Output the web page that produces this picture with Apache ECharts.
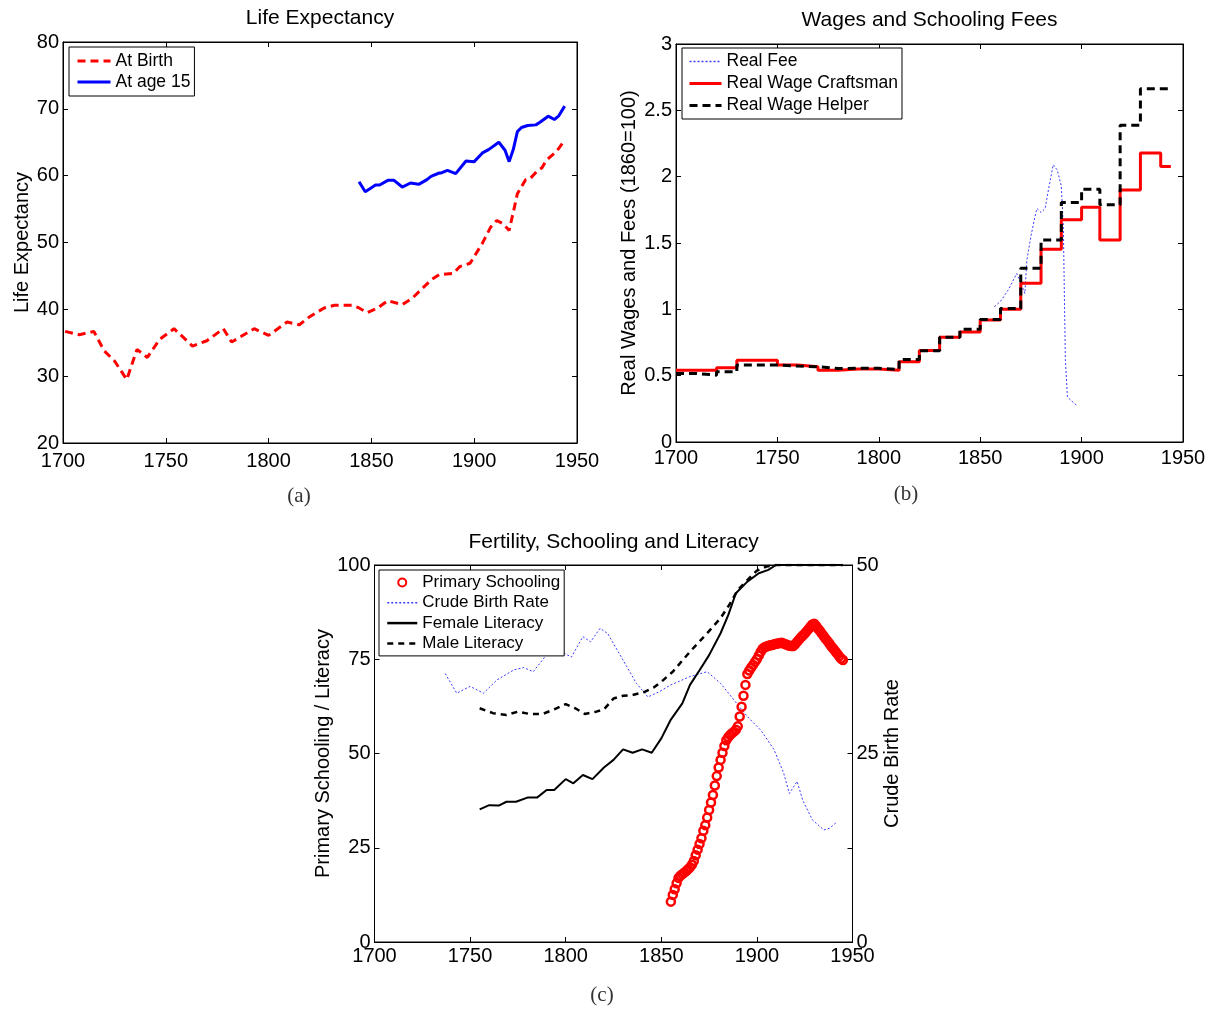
<!DOCTYPE html>
<html><head><meta charset="utf-8">
<script src="https://cdn.jsdelivr.net/npm/echarts@6/dist/echarts.min.js"></script>
<style>html,body{margin:0;padding:0;background:#fff}#c{width:1221px;height:1009px}</style>
</head><body><div id="c"></div>
<script>
// ---------- Panel (a): Life Expectancy ----------
const birthYears  = [1701,1708,1715,1720,1725,1731,1736,1741,1747,1754,1763,1770,1778,1782,1793,1800,1809,1815,1820,1827,1832,1841,1844,1848,1853,1858,1865,1870,1874,1879,1883,1890,1893,1898,1904,1908,1911,1914,1917,1919,1921,1925,1927,1931,1933,1935,1940,1944];
const birthValues = [36.7,36.2,36.7,33.8,32.3,29.5,34.0,32.8,35.5,37.1,34.5,35.3,37.1,35.1,37.1,36.1,38.1,37.7,38.9,40.2,40.6,40.6,40.2,39.5,40.2,41.3,40.7,41.7,42.9,44.4,45.2,45.4,46.4,46.9,49.9,52.3,53.3,52.8,51.8,54.5,57.3,59.4,59.5,60.8,61.2,62.3,63.6,65.3];
const age15Years  = [1844,1847,1850,1852,1854,1858,1861,1865,1869,1873,1877,1879,1883,1884,1887,1891,1896,1900,1904,1907,1912,1915,1917,1919,1921,1923,1926,1930,1932,1936,1939,1941,1944];
const age15Values = [59.1,57.6,58.2,58.6,58.6,59.3,59.3,58.3,58.9,58.7,59.4,59.9,60.4,60.4,60.8,60.3,62.2,62.1,63.4,63.9,65.0,63.8,62.1,63.9,66.6,67.2,67.5,67.6,68.0,68.9,68.4,68.9,70.4];

// ---------- Panel (b): Wages and Schooling Fees ----------
const wageYears      = [1700,1710,1720,1730,1740,1750,1760,1770,1780,1790,1800,1810,1820,1830,1840,1850,1860,1870,1880,1890,1900,1909,1919,1929,1939,1944];
const craftsmanWage  = [0.54,0.54,0.56,0.617,0.617,0.58,0.567,0.54,0.55,0.55,0.54,0.604,0.69,0.79,0.83,0.92,1.0,1.196,1.453,1.675,1.77,1.523,1.90,2.178,2.077,2.077];
const helperWage     = [0.516,0.504,0.529,0.58,0.58,0.572,0.567,0.554,0.556,0.556,0.547,0.622,0.687,0.79,0.849,0.924,1.007,1.31,1.523,1.805,1.906,1.788,2.387,2.662,2.662,2.662];
const feeYears  = [1857,1860,1864,1868,1870,1872,1873,1875,1877,1878,1880,1882,1884,1886,1888,1890,1891,1891.5,1892,1893,1895,1898];
const feeValues = [1.02,1.06,1.15,1.27,1.20,1.12,1.37,1.55,1.70,1.76,1.73,1.76,1.93,2.09,2.05,1.93,1.62,1.12,0.62,0.34,0.31,0.27];

// ---------- Panel (c): Fertility, Schooling and Literacy ----------
const schoolYears  = [1855,1856,1857,1858,1859,1860,1861,1862,1863,1864,1865,1866,1867,1868,1869,1870,1871,1872,1873,1874,1875,1876,1877,1878,1879,1880,1881,1882,1883,1884,1885,1886,1887,1888,1889,1890,1891,1892,1893,1894,1895,1896,1897,1898,1899,1900,1901,1902,1903,1904,1905,1906,1907,1908,1909,1910,1911,1912,1913,1914,1915,1916,1917,1918,1919,1920,1921,1922,1923,1924,1925,1926,1927,1928,1929,1930,1931,1932,1933,1934,1935,1936,1937,1938,1939,1940,1941,1942,1943,1944,1945];
const schoolValues = [10.7,12.5,14.0,15.6,17.0,17.6,18.0,18.4,18.8,19.3,19.8,20.5,21.5,23.0,24.5,26.0,27.5,29.5,31.0,33.0,35.0,37.0,39.0,41.5,44.0,46.3,48.3,50.2,52.0,53.5,54.3,54.9,55.4,55.8,56.3,57.2,59.8,62.4,65.3,68.2,71.1,72.0,72.8,73.5,74.3,75.0,76.0,77.0,77.8,78.2,78.4,78.6,78.7,78.8,79.0,79.1,79.2,79.3,79.4,79.2,79.0,78.8,78.6,78.5,78.5,79.0,79.6,80.2,80.8,81.3,81.8,82.4,83.0,83.6,84.2,84.4,83.8,83.1,82.5,81.8,81.1,80.4,79.8,79.1,78.4,77.8,77.1,76.5,75.8,75.2,74.8];
const cbrYears  = [1737,1743,1750,1757,1764,1773,1778,1783,1790,1796,1803,1809,1813,1818,1822,1827,1832,1837,1843,1849,1855,1865,1874,1881,1888,1895,1902,1909,1914,1917,1921,1924,1929,1935,1938,1942];
const cbrValues = [35.6,33.0,33.9,33.0,34.75,36.1,36.4,35.85,38.1,38.7,37.8,40.5,39.8,41.6,40.9,38.7,36.5,34.3,32.5,33.2,34.1,35.2,35.85,34.3,32.1,29.9,28.1,25.5,22.4,19.7,21.3,18.8,16.2,14.85,15.1,15.95];
const femaleYears  = [1755,1760,1765,1769,1774,1780,1785,1790,1794,1800,1804,1809,1814,1820,1825,1830,1835,1840,1845,1850,1855,1861,1865,1870,1875,1881,1885,1889,1895,1901,1906,1910,1945];
const femaleValues = [35.2,36.3,36.2,37.2,37.2,38.3,38.3,40.3,40.3,43.2,42.1,44.3,43.2,46.3,48.3,51.1,50.2,51.1,50.2,54.0,59.0,63.3,68.2,72.1,76.1,81.9,86.7,92.5,95.6,97.8,98.7,100,100];
const maleYears  = [1755,1762,1769,1775,1781,1788,1794,1800,1805,1810,1816,1820,1825,1830,1835,1841,1846,1850,1856,1865,1874,1881,1886,1890,1895,1900,1905,1910,1945];
const maleValues = [62.0,60.7,60.2,61.1,60.5,60.5,61.7,63.1,62.0,60.5,61.1,61.7,64.6,65.3,65.5,66.3,67.5,69.0,71.7,77.0,81.9,85.9,89.8,93.4,96.0,98.5,99.6,100,100];

const yearTicks = [1700, 1950, 50];

const zip = (xs, ys) => xs.map((x, i) => [x, ys[i]]);
const FONT = '"Liberation Sans", Arial, Helvetica, sans-serif';
const SERIF = '"Liberation Serif", "DejaVu Serif", serif';
const BLACK = '#000';

function xAx(grid, pos, labels, margin) {
  return {
    type: 'value', gridIndex: grid, position: pos,
    min: yearTicks[0], max: yearTicks[1], interval: yearTicks[2],
    axisLine: { show: true, onZero: false, lineStyle: { color: BLACK, width: 1 } },
    axisTick: { show: true, inside: true, length: 5, lineStyle: { color: BLACK } },
    splitLine: { show: false },
    axisLabel: { show: labels, color: BLACK, fontSize: 20, fontFamily: FONT, margin: margin || 6, formatter: v => String(v) }
  };
}
function yAx(grid, pos, min, max, interval, labels, extra) {
  return Object.assign({
    type: 'value', gridIndex: grid, position: pos, min, max, interval,
    axisLine: { show: true, onZero: false, lineStyle: { color: BLACK, width: 1 } },
    axisTick: { show: true, inside: true, length: 5, lineStyle: { color: BLACK } },
    splitLine: { show: false },
    axisLabel: { show: labels, color: BLACK, fontSize: 20, fontFamily: FONT, margin: 4 },
    nameTextStyle: { color: BLACK, fontSize: 20, fontFamily: FONT }
  }, extra || {});
}
const hideSym = { opacity: 0, color: 'rgba(0,0,0,0)', borderWidth: 0 };
const lineItem = (name, width) => ({ name, itemStyle: hideSym, lineStyle: { width } });
function legend(left, top, items, fs, lh, gap, iw, ih, pad) {
  return {
    orient: 'vertical', left, top, data: items,
    itemWidth: iw, itemHeight: ih, itemGap: gap, padding: pad,
    borderColor: BLACK, borderWidth: 1, backgroundColor: '#fff',
    textStyle: { color: BLACK, fontSize: fs, lineHeight: lh, fontFamily: FONT },
    selectedMode: false
  };
}

const option = {
  animation: false,
  backgroundColor: '#fff',
  grid: [
    { left: 63, top: 42, width: 514, height: 401, show: true, borderColor: BLACK, borderWidth: 1 },
    { left: 676, top: 44, width: 507, height: 398, show: true, borderColor: BLACK, borderWidth: 1 },
    { left: 374.5, top: 565, width: 478, height: 377, show: true, borderColor: BLACK, borderWidth: 1 }
  ],
  xAxis: [
    xAx(0, 'bottom', true, 8), xAx(0, 'top', false),
    xAx(1, 'bottom', true, 6), xAx(1, 'top', false),
    xAx(2, 'bottom', true, 4), xAx(2, 'top', false)
  ],
  yAxis: [
    yAx(0, 'left', 20, 80, 10, true, { name: 'Life Expectancy', nameLocation: 'middle', nameGap: 30, nameRotate: 90 }),
    yAx(0, 'right', 20, 80, 10, false),
    yAx(1, 'left', 0, 3, 0.5, true, { name: 'Real Wages and Fees (1860=100)', nameLocation: 'middle', nameGap: 37, nameRotate: 90 }),
    yAx(1, 'right', 0, 3, 0.5, false),
    yAx(2, 'left', 0, 100, 25, true, { name: 'Primary Schooling / Literacy', nameLocation: 'middle', nameGap: 38, nameRotate: 90 }),
    yAx(2, 'right', 0, 50, 12.5, true, { name: 'Crude Birth Rate', nameLocation: 'middle', nameGap: 28, nameRotate: 90,
      axisLabel: { show: true, color: BLACK, fontSize: 20, fontFamily: FONT, margin: 4,
        formatter: v => (v % 25 === 0 ? String(v) : '') } })
  ],
  legend: [
    legend(69, 47, [lineItem('At Birth', 3), lineItem('At age 15', 3)], 17.5, 20, 1, 33, 14, [4, 4, 4, 7]),
    legend(682, 48, [lineItem('Real Fee', 1.5), lineItem('Real Wage Craftsman', 3), lineItem('Real Wage Helper', 3)], 17.5, 21, 1, 32, 14, [3, 4, 3, 6]),
    legend(379, 570, [{ name: 'Primary Schooling' }, lineItem('Crude Birth Rate', 1.5), lineItem('Female Literacy', 2.5), lineItem('Male Literacy', 2.5)], 17, 19, 1.3, 30, 8, [3, 4, 3, 7])
  ],
  series: [
    { name: 'At Birth', type: 'line', xAxisIndex: 0, yAxisIndex: 0, data: zip(birthYears, birthValues),
      symbol: 'none', itemStyle: { color: '#ff0000' }, lineStyle: { color: '#ff0000', width: 3, type: [8, 5] } },
    { name: 'At age 15', type: 'line', xAxisIndex: 0, yAxisIndex: 0, data: zip(age15Years, age15Values),
      symbol: 'none', itemStyle: { color: '#0000ff' }, lineStyle: { color: '#0000ff', width: 3 } },

    { name: 'Real Fee', type: 'line', xAxisIndex: 2, yAxisIndex: 2, data: zip(feeYears, feeValues),
      symbol: 'none', itemStyle: { color: '#3a3aff' }, lineStyle: { color: '#3a3aff', width: 1, type: [2, 2] } },
    { name: 'Real Wage Craftsman', type: 'line', step: 'end', xAxisIndex: 2, yAxisIndex: 2, data: zip(wageYears, craftsmanWage),
      symbol: 'none', itemStyle: { color: '#ff0000' }, lineStyle: { color: '#ff0000', width: 3 } },
    { name: 'Real Wage Helper', type: 'line', step: 'end', xAxisIndex: 2, yAxisIndex: 2, data: zip(wageYears, helperWage),
      symbol: 'none', itemStyle: { color: BLACK }, lineStyle: { color: BLACK, width: 3, type: [8, 5] } },

    { name: 'Crude Birth Rate', type: 'line', xAxisIndex: 4, yAxisIndex: 5, data: zip(cbrYears, cbrValues),
      symbol: 'none', itemStyle: { color: '#3a3aff' }, lineStyle: { color: '#3a3aff', width: 1, type: [2, 2] } },
    { name: 'Female Literacy', type: 'line', xAxisIndex: 4, yAxisIndex: 4, data: zip(femaleYears, femaleValues),
      symbol: 'none', itemStyle: { color: BLACK }, lineStyle: { color: BLACK, width: 2 } },
    { name: 'Male Literacy', type: 'line', xAxisIndex: 4, yAxisIndex: 4, data: zip(maleYears, maleValues),
      symbol: 'none', itemStyle: { color: BLACK }, lineStyle: { color: BLACK, width: 2.5, type: [6, 5] } },
    { name: 'Primary Schooling', type: 'scatter', xAxisIndex: 4, yAxisIndex: 4, data: zip(schoolYears, schoolValues),
      symbol: 'circle', symbolSize: 8, z: 3,
      itemStyle: { color: 'rgba(255,255,255,0)', borderColor: '#ff0000', borderWidth: 2.5, opacity: 1 } }
  ],
  graphic: [
    { type: 'text', x: 320, y: 18, style: { text: 'Life Expectancy', fontSize: 21, fontFamily: FONT, fill: BLACK, align: 'center', verticalAlign: 'middle' } },
    { type: 'text', x: 929.5, y: 20, style: { text: 'Wages and Schooling Fees', fontSize: 21, fontFamily: FONT, fill: BLACK, align: 'center', verticalAlign: 'middle' } },
    { type: 'text', x: 613.6, y: 542, style: { text: 'Fertility, Schooling and Literacy', fontSize: 21, fontFamily: FONT, fill: BLACK, align: 'center', verticalAlign: 'middle' } },
    { type: 'text', x: 299, y: 496, style: { text: '(a)', fontSize: 21, fontFamily: SERIF, fill: '#333', align: 'center', verticalAlign: 'middle' } },
    { type: 'text', x: 906, y: 494, style: { text: '(b)', fontSize: 21, fontFamily: SERIF, fill: '#333', align: 'center', verticalAlign: 'middle' } },
    { type: 'text', x: 602, y: 995, style: { text: '(c)', fontSize: 21, fontFamily: SERIF, fill: '#333', align: 'center', verticalAlign: 'middle' } }
  ]
};

const chart = echarts.init(document.getElementById('c'), null, { renderer: 'canvas' });
chart.setOption(option);
</script>
</body></html>
